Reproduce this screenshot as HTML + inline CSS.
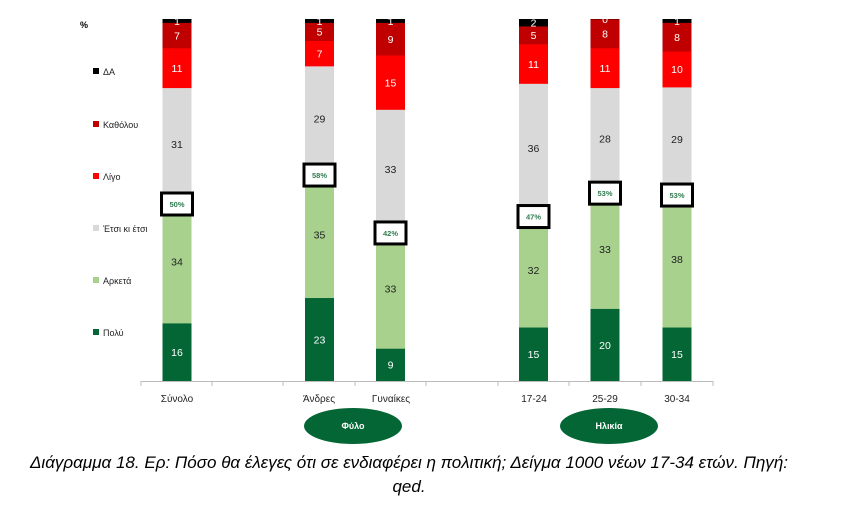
<!DOCTYPE html>
<html><head><meta charset="utf-8"><style>
html,body{margin:0;padding:0;background:#fff;}
svg{display:block;font-family:"Liberation Sans","DejaVu Sans",sans-serif;}
</style></head><body>
<svg id="s" width="843" height="514" viewBox="0 0 843 514" xmlns="http://www.w3.org/2000/svg">
<text x="80" y="28" font-size="9" font-weight="bold" fill="#000">%</text>
<g font-size="9" fill="#222">
<rect x="93" y="68" width="6" height="6" fill="#000"/><text x="103" y="75">ΔΑ</text>
<rect x="93" y="121" width="6" height="6" fill="#c00000"/><text x="103" y="128">Καθόλου</text>
<rect x="93" y="173" width="6" height="6" fill="#ff0000"/><text x="103" y="180">Λίγο</text>
<rect x="93" y="225" width="6" height="6" fill="#d9d9d9"/><text x="103" y="232">Έτσι κι έτσι</text>
<rect x="93" y="277" width="6" height="6" fill="#a9d18e"/><text x="103" y="284">Αρκετά</text>
<rect x="93" y="329" width="6" height="6" fill="#036634"/><text x="103" y="336">Πολύ</text>
</g>
<g id="bars"></g>
<line x1="141" y1="381.5" x2="713" y2="381.5" stroke="#bbb" stroke-width="1"/>
<g stroke="#bbb"><line x1="141" y1="381" x2="141" y2="386"/><line x1="212" y1="381" x2="212" y2="386"/><line x1="283" y1="381" x2="283" y2="386"/><line x1="355" y1="381" x2="355" y2="386"/><line x1="426" y1="381" x2="426" y2="386"/><line x1="498" y1="381" x2="498" y2="386"/><line x1="569" y1="381" x2="569" y2="386"/><line x1="641" y1="381" x2="641" y2="386"/><line x1="713" y1="381" x2="713" y2="386"/></g>
<g font-size="10" fill="#222" text-anchor="middle">
<text x="177" y="402">Σύνολο</text><text x="319" y="402">Άνδρες</text><text x="391" y="402">Γυναίκες</text>
<text x="534" y="402">17-24</text><text x="605" y="402">25-29</text><text x="677" y="402">30-34</text>
</g>
<ellipse cx="353" cy="426" rx="49" ry="18" fill="#036634"/>
<ellipse cx="609" cy="426" rx="49" ry="18" fill="#036634"/>
<g font-size="9" fill="#fff" text-anchor="middle" font-weight="bold"><text x="353" y="429">Φύλο</text><text x="609" y="429">Ηλικία</text></g>
<g font-size="17" font-style="italic" fill="#000" text-anchor="middle">
<text x="409" y="468" textLength="758" lengthAdjust="spacingAndGlyphs">Διάγραμμα 18. Ερ: Πόσο θα έλεγες ότι σε ενδιαφέρει η πολιτική; Δείγμα 1000 νέων 17-34 ετών. Πηγή:</text>
<text x="409" y="492">qed.</text>
</g>
</svg>
<script>
var data=[[177,[16,34,31,11,7,1],"50%"],[319.5,[23,35,29,7,5,1],"58%"],[390.5,[9,33,33,15,9,1],"42%"],[533.5,[15,32,36,11,5,2],"47%"],[605,[20,33,28,11,8,0],"53%"],[677,[15,38,29,10,8,1],"53%"]];
var cols=["#036634","#a9d18e","#d9d9d9","#ff0000","#c00000","#000"];
var tc=["#fff","#222","#222","#fff","#fff","#fff"];
var out="";
data.forEach(function(d){var s=d[1].reduce(function(a,b){return a+b},0);var y=381;var x=d[0]-14.5;var by=0;
d[1].forEach(function(v,i){var h=v/s*362;y-=h;out+='<rect x="'+x+'" y="'+y.toFixed(2)+'" width="29" height="'+(h+0.3).toFixed(2)+'" fill="'+cols[i]+'"/>';
out+='<text x="'+d[0]+'" y="'+(y+h/2+4).toFixed(1)+'" font-size="10.5" text-anchor="middle" fill="'+tc[i]+'">'+v+'</text>';if(i==1)by=y;});
out+='<rect x="'+(d[0]-15.5)+'" y="'+(by-7)+'" width="31" height="22" fill="#fff" stroke="#000" stroke-width="3"/>';
out+='<text x="'+d[0]+'" y="'+(by+7)+'" font-size="7.5" font-weight="bold" text-anchor="middle" fill="#2e7d4f">'+d[2]+'</text>';});
document.getElementById("bars").innerHTML=out;
</script>
</body></html>
